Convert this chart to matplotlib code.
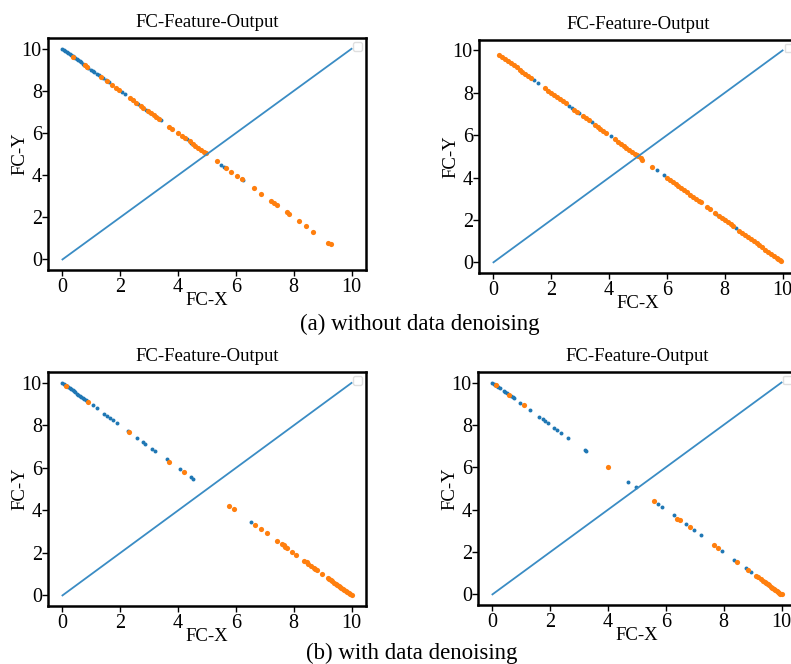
import matplotlib
matplotlib.use("Agg")
import matplotlib.pyplot as plt

plt.rcParams.update(
    {
        "font.family": ["Liberation Serif", "DejaVu Serif"],
        "font.size": 13,
        "axes.linewidth": 1.8,
        "xtick.major.width": 1.0,
        "ytick.major.width": 1.0,
        "xtick.major.size": 4,
        "ytick.major.size": 4,
    }
)

# reference line
line_x = [0, 10]
line_y = [0, 10]

# (a) without data denoising, left
a1_blue_x = [0.0, 0.05, 0.1, 0.15, 0.2, 0.25, 0.3, 0.35, 0.4, 0.45, 0.5, 0.55, 0.6, 0.65, 0.7, 0.75, 0.8, 0.85, 0.9,
             1.0, 1.05, 1.1, 1.2, 1.25, 1.4, 1.5, 1.6, 2.05, 2.15, 2.45, 2.6, 2.9, 3.0, 3.3, 3.4,
             4.3, 4.45, 5.5, 5.6, 6.2, 6.25]
a1_blue_y = [10.0, 9.95, 9.9, 9.85, 9.8, 9.75, 9.7, 9.65, 9.6, 9.55, 9.5, 9.45, 9.4, 9.35, 9.3, 9.25, 9.2, 9.15, 9.1,
             9.0, 8.95, 8.9, 8.8, 8.75, 8.6, 8.5, 8.4, 7.95, 7.85, 7.55, 7.4, 7.1, 7.0, 6.7, 6.6,
             5.7, 5.55, 4.5, 4.4, 3.8, 3.75]
a1_orange_x = [0.38, 0.78, 0.85, 1.35, 1.55, 1.7, 1.85, 1.95, 2.35, 2.45, 2.55, 2.7, 2.8, 2.95, 3.05, 3.15, 3.25, 3.35,
               3.7, 3.8, 4.0, 4.15, 4.25, 4.4, 4.5, 4.6, 4.7, 4.8, 4.9, 4.95, 5.35, 5.65, 5.83, 6.05, 6.2, 6.63,
               6.88, 7.22, 7.33, 7.43, 7.75, 7.82, 8.17, 8.43, 8.68, 9.2, 9.28]
a1_orange_y = [9.62, 9.22, 9.15, 8.65, 8.45, 8.3, 8.15, 8.05, 7.65, 7.55, 7.45, 7.3, 7.2, 7.05, 6.95, 6.85, 6.75, 6.65,
               6.3, 6.2, 6.0, 5.85, 5.75, 5.6, 5.5, 5.4, 5.3, 5.2, 5.1, 5.05, 4.65, 4.35, 4.17, 3.95, 3.8, 3.37,
               3.12, 2.78, 2.67, 2.57, 2.25, 2.18, 1.83, 1.57, 1.32, 0.8, 0.72]

# (a) without data denoising, right
a2_blue_x = [0.5, 0.9, 1.1, 1.4, 1.53, 2.6, 2.7, 2.97, 3.4, 4.05, 5.66, 5.9, 6.1, 7.7, 7.97, 8.4]
a2_blue_y = [9.5, 9.1, 8.9, 8.6, 8.47, 7.4, 7.3, 7.03, 6.6, 5.95, 4.34, 4.1, 3.9, 2.3, 2.03, 1.6]
a2_orange_x = [0.2, 0.3, 0.4, 0.5, 0.6, 0.7, 0.8, 0.9, 1.0, 1.1, 1.2, 1.3,
               1.78, 1.9, 2.0, 2.1, 2.2, 2.3, 2.4, 2.5, 2.8, 2.9, 3.1, 3.2, 3.3, 3.5, 3.6, 3.7, 3.8, 3.9,
               4.2, 4.3, 4.4, 4.5, 4.6, 4.7, 4.8, 4.9, 4.95, 5.0, 5.1, 5.15, 5.5,
               6.0, 6.1, 6.2, 6.3, 6.4, 6.5, 6.6, 6.7, 6.8, 6.9, 7.0, 7.1, 7.17, 7.4, 7.5,
               7.65, 7.8, 7.9, 8.0, 8.1, 8.2, 8.3, 8.5, 8.6, 8.7, 8.8, 8.9, 9.0, 9.1, 9.2, 9.3,
               9.4, 9.5, 9.6, 9.7, 9.8, 9.85, 9.9, 9.95]
a2_orange_y = [9.8, 9.7, 9.6, 9.5, 9.4, 9.3, 9.2, 9.1, 9.0, 8.9, 8.8, 8.7,
               8.22, 8.1, 8.0, 7.9, 7.8, 7.7, 7.6, 7.5, 7.2, 7.1, 6.9, 6.8, 6.7, 6.5, 6.4, 6.3, 6.2, 6.1,
               5.8, 5.7, 5.6, 5.5, 5.4, 5.3, 5.2, 5.1, 5.05, 5.0, 4.9, 4.85, 4.5,
               4.0, 3.9, 3.8, 3.7, 3.6, 3.5, 3.4, 3.3, 3.2, 3.1, 3.0, 2.9, 2.83, 2.6, 2.5,
               2.35, 2.2, 2.1, 2.0, 1.9, 1.8, 1.7, 1.5, 1.4, 1.3, 1.2, 1.1, 1.0, 0.9, 0.8, 0.7,
               0.6, 0.5, 0.4, 0.3, 0.2, 0.15, 0.1, 0.05]

# (b) with data denoising, left
b1_blue_x = [0.0, 0.05, 0.1, 0.15, 0.2, 0.25, 0.3, 0.35, 0.4, 0.45, 0.5, 0.55, 0.6, 0.65, 0.7, 0.75, 0.8, 0.85,
             1.05, 1.2, 1.45, 1.55, 1.65, 1.75, 1.88,
             2.25, 2.57, 2.78, 2.86, 3.1, 3.2, 3.6, 4.05, 4.45, 4.5, 6.53]
b1_blue_y = [10.0, 9.95, 9.9, 9.85, 9.8, 9.75, 9.7, 9.65, 9.6, 9.55, 9.5, 9.45, 9.4, 9.35, 9.3, 9.25, 9.2, 9.15,
             8.95, 8.8, 8.55, 8.45, 8.35, 8.25, 8.12,
             7.75, 7.43, 7.22, 7.14, 6.9, 6.8, 6.4, 5.95, 5.55, 5.5, 3.47]
b1_orange_x = [0.13, 0.9, 2.3, 3.7, 4.2, 5.77, 5.94, 6.67, 6.88, 7.08, 7.43, 7.6, 7.65, 7.7, 7.78,
               7.95, 8.08, 8.37, 8.45, 8.5, 8.6, 8.7, 8.75, 8.82, 8.98, 9.17, 9.22, 9.28, 9.33, 9.4,
               9.45, 9.5, 9.55, 9.6, 9.65, 9.7, 9.75, 9.8, 9.85, 9.9, 9.95, 10.0]
b1_orange_y = [9.87, 9.1, 7.7, 6.3, 5.8, 4.23, 4.06, 3.33, 3.12, 2.92, 2.57, 2.4, 2.35, 2.3, 2.22,
               2.05, 1.92, 1.63, 1.55, 1.5, 1.4, 1.3, 1.25, 1.18, 1.02, 0.83, 0.78, 0.72, 0.67, 0.6,
               0.55, 0.5, 0.45, 0.4, 0.35, 0.3, 0.25, 0.2, 0.15, 0.1, 0.05, 0.0]

# (b) with data denoising, right
b2_blue_x = [0.0, 0.05, 0.1, 0.15, 0.2, 0.25, 0.4, 0.45, 0.5, 0.65, 0.7, 0.75,
             0.97, 1.3, 1.62, 1.74, 1.83, 1.92, 2.13, 2.24, 2.36, 2.6,
             3.2, 3.25, 4.7, 4.95, 5.74, 5.86, 6.27, 6.68, 6.97, 7.2,
             7.93, 8.37, 8.77, 8.95, 9.5, 9.7, 9.85]
b2_blue_y = [10.0, 9.95, 9.9, 9.85, 9.8, 9.75, 9.6, 9.55, 9.5, 9.35, 9.3, 9.25,
             9.03, 8.7, 8.38, 8.26, 8.17, 8.08, 7.87, 7.76, 7.64, 7.4,
             6.8, 6.75, 5.3, 5.05, 4.26, 4.14, 3.73, 3.32, 3.03, 2.8,
             2.07, 1.63, 1.23, 1.05, 0.5, 0.3, 0.15]
b2_orange_x = [0.13, 0.58, 1.08, 4.0, 5.6, 6.4, 6.5, 6.85, 7.66, 7.8, 8.45, 8.84, 9.13, 9.2, 9.28,
               9.36, 9.42, 9.48, 9.53, 9.58, 9.63, 9.68, 9.73, 9.78, 9.83, 9.88, 9.92, 9.96, 10.0]
b2_orange_y = [9.9, 9.42, 8.95, 6.02, 4.4, 3.57, 3.5, 3.17, 2.32, 2.2, 1.55, 1.17, 0.88, 0.8, 0.72,
               0.64, 0.58, 0.52, 0.47, 0.42, 0.37, 0.32, 0.27, 0.22, 0.17, 0.12, 0.08, 0.04, 0.0]

panels = [
    ([0.0607, 0.5934, 0.402, 0.349], a1_blue_x, a1_blue_y, a1_orange_x, a1_orange_y),
    ([0.6056, 0.5890, 0.402, 0.351], a2_blue_x, a2_blue_y, a2_orange_x, a2_orange_y),
    ([0.0607, 0.0873, 0.402, 0.352], b1_blue_x, b1_blue_y, b1_orange_x, b1_orange_y),
    ([0.6043, 0.0889, 0.402, 0.351], b2_blue_x, b2_blue_y, b2_orange_x, b2_orange_y),
]

fig = plt.figure(figsize=(7.91, 6.64), dpi=100)

for rect, bx, by, ox, oy in panels:
    ax = fig.add_axes(rect)
    ax.plot(line_x, line_y, color="#3a8cc4", lw=1.3)
    ax.scatter(bx, by, s=8, color="#1f77b4", linewidths=0)
    ax.scatter(ox, oy, s=14, color="#ff7f0e", linewidths=0)
    ax.set_xlim(-0.5, 10.5)
    ax.set_ylim(-0.5, 10.5)
    ax.set_xticks([0, 2, 4, 6, 8, 10])
    ax.set_yticks([0, 2, 4, 6, 8, 10])
    ax.set_title("FC-Feature-Output", fontsize=13.5, pad=8)
    ax.set_xlabel("FC-X", fontsize=13.5)
    ax.set_ylabel("FC-Y", fontsize=13.5)
    ax.xaxis.set_label_coords(0.5, -0.095)
    ax.yaxis.set_label_coords(-0.062, 0.5)
    ax.tick_params(labelsize=14.5, pad=1.5)
    ax.tick_params(axis="y", pad=0.5)
    ax.legend(handles=[], loc="upper right", borderaxespad=0.6,
              fontsize=5, borderpad=0.6, edgecolor="#d8d8d8")

fig.text(0.531, 0.512, "(a) without data denoising", ha="center", va="center", fontsize=16.5)
fig.text(0.52, 0.016, "(b) with data denoising", ha="center", va="center", fontsize=16.5)

plt.savefig("out.png", dpi=100)
